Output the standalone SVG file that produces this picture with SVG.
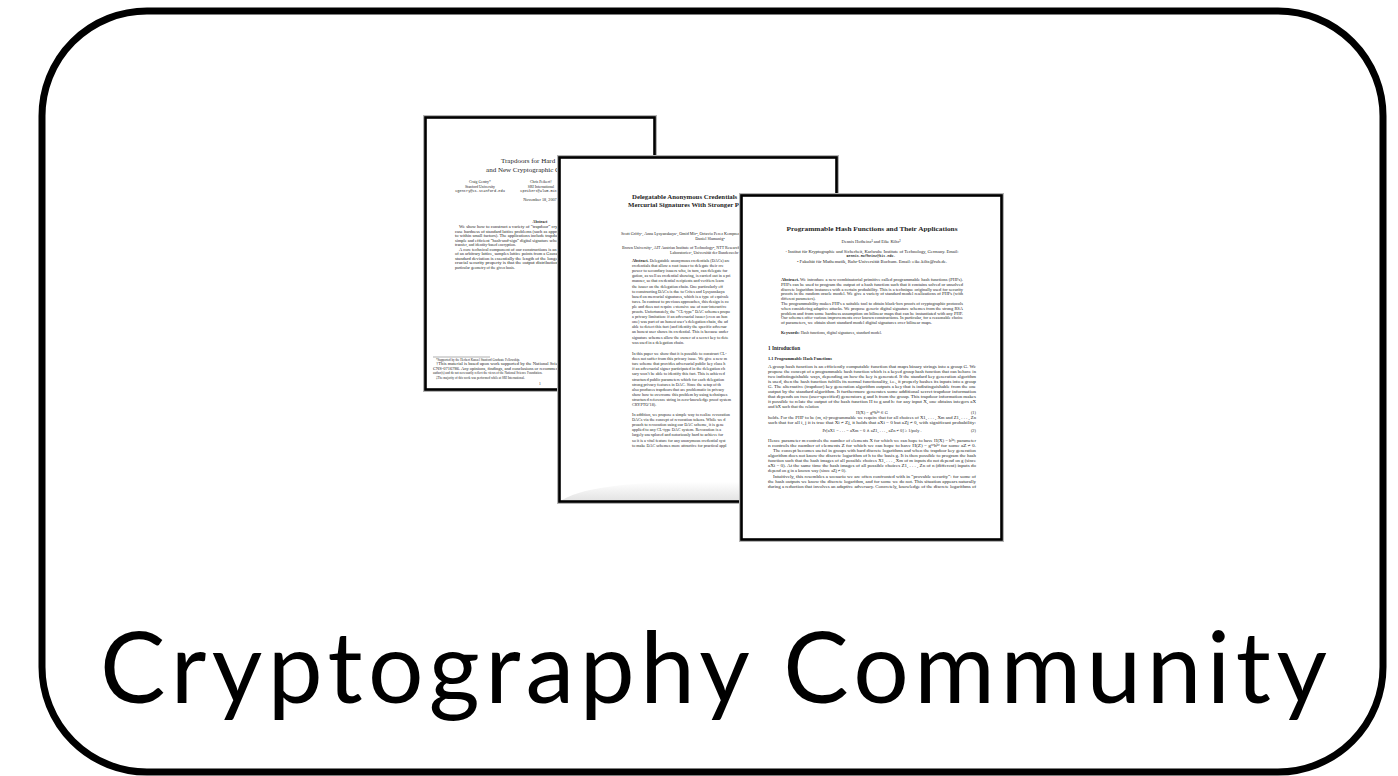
<svg xmlns="http://www.w3.org/2000/svg" width="1398" height="776" viewBox="0 0 1398 776">
<defs>
<style>
.frame{fill:#fff;stroke:#000;stroke-width:7}
.halo{fill:none;stroke:#b4b4b4;stroke-width:5}
.page{fill:#fff;stroke:#000;stroke-width:2.6}
.t{font-family:"Liberation Serif","DejaVu Serif",serif;fill:#1e1e1e}
.bd{font-weight:bold}
.m{font-family:"Liberation Mono","DejaVu Sans Mono",monospace}
.label{font-family:Lato,"Open Sans","Noto Sans",sans-serif;font-size:98px;fill:#000}
</style>
<linearGradient id="shade" x1="0" y1="0" x2="0" y2="1">
<stop offset="0" stop-color="#ffffff"/>
<stop offset="1" stop-color="#e4e4e4"/>
</linearGradient>
</defs>
<rect width="1398" height="776" fill="#fff"/>
<g id="frame">
<rect class="frame" x="42" y="11" width="1341" height="761" rx="105" ry="105"/>
</g>

<g id="paper1">
<rect class="halo" x="425.5" y="117.5" width="229" height="272"/>
<rect class="page" x="425.5" y="117.5" width="229" height="272"/>
<g class="t">
<text x="540" y="163" font-size="7" text-anchor="middle">Trapdoors for Hard Lattices</text>
<text x="540" y="172" font-size="7" text-anchor="middle">and New Cryptographic Constructions</text>
<text x="480" y="183" font-size="3.8" text-anchor="middle">Craig Gentry*</text>
<text x="541" y="183" font-size="3.8" text-anchor="middle">Chris Peikert†</text>
<text x="604" y="183" font-size="3.8" text-anchor="middle">Vinod Vaikuntanathan‡</text>
<text x="480" y="187.5" font-size="3.8" text-anchor="middle">Stanford University</text>
<text x="541" y="187.5" font-size="3.8" text-anchor="middle">SRI International</text>
<text x="604" y="187.5" font-size="3.8" text-anchor="middle">IBM</text>
<text class="m" x="480" y="192" font-size="3.6" text-anchor="middle">cgentry@cs.stanford.edu</text>
<text class="m" x="543" y="192" font-size="3.6" text-anchor="middle">cpeikert@alum.mit.edu</text>
<text x="540" y="201" font-size="4.2" text-anchor="middle">November 18, 2007</text>
<text class="bd" x="540" y="223" font-size="4" text-anchor="middle">Abstract</text>
<text x="459" y="228" font-size="3.9" textLength="166" lengthAdjust="spacingAndGlyphs">We show how to construct a variety of “trapdoor” cryptographic tools assuming the worst-</text>
<text x="455" y="232.5" font-size="3.9" textLength="170" lengthAdjust="spacingAndGlyphs">case hardness of standard lattice problems (such as approximating the shortest nonzero vector</text>
<text x="455" y="237" font-size="3.9" textLength="170" lengthAdjust="spacingAndGlyphs">to within small factors). The applications include trapdoor functions with preimage sampling,</text>
<text x="455" y="241.5" font-size="3.9" textLength="170" lengthAdjust="spacingAndGlyphs">simple and efficient “hash-and-sign” digital signature schemes, universally composable oblivious</text>
<text x="455" y="246" font-size="3.9">transfer, and identity-based encryption.</text>
<text x="459" y="250.5" font-size="3.9" textLength="166" lengthAdjust="spacingAndGlyphs">A core technical component of our constructions is an efficient algorithm that, given a basis</text>
<text x="455" y="255" font-size="3.9" textLength="170" lengthAdjust="spacingAndGlyphs">of an arbitrary lattice, samples lattice points from a Gaussian-like probability distribution whose</text>
<text x="455" y="259.5" font-size="3.9" textLength="170" lengthAdjust="spacingAndGlyphs">standard deviation is essentially the length of the longest vector in the basis. In particular, a</text>
<text x="455" y="264" font-size="3.9" textLength="170" lengthAdjust="spacingAndGlyphs">crucial security property is that the output distribution of the algorithm is oblivious to the</text>
<text x="455" y="268.5" font-size="3.9">particular geometry of the given basis.</text>
<line x1="433" y1="357" x2="490" y2="357" stroke="#333" stroke-width="0.4"/>
<text x="436" y="360.5" font-size="3.2">*Supported by the Herbert Kunzel Stanford Graduate Fellowship.</text>
<text x="436" y="365" font-size="3.2" textLength="211" lengthAdjust="spacingAndGlyphs">†This material is based upon work supported by the National Science Foundation under Grants CNS-0430450 and</text>
<text x="433" y="369.5" font-size="3.2" textLength="214" lengthAdjust="spacingAndGlyphs">CNS-0716786. Any opinions, findings, and conclusions or recommendations expressed in this material are those of the</text>
<text x="433" y="374" font-size="3.2">author(s) and do not necessarily reflect the views of the National Science Foundation.</text>
<text x="436" y="378.5" font-size="3.2">‡The majority of this work was performed while at SRI International.</text>
<text x="540" y="385" font-size="3.6" text-anchor="middle">1</text>
</g>
</g>

<g id="paper2">
<rect class="halo" x="559.5" y="157.5" width="277" height="344"/>
<rect class="page" x="559.5" y="157.5" width="277" height="344"/>
<path d="M562 500 C 590 484 650 481 740 482 L 740 500 Z" fill="url(#shade)"/>
<g class="t">
<text class="bd" x="632" y="199" font-size="6.8">Delegatable Anonymous Credentials From</text>
<text class="bd" x="628" y="207" font-size="6.8">Mercurial Signatures With Stronger Privacy</text>
<text x="621" y="235" font-size="4.2">Scott Griffy¹, Anna Lysyanskaya¹, Omid Mir², Octavio Perez Kempner³, and</text>
<text x="710" y="240" font-size="4.2" text-anchor="middle">Daniel Slamanig⁴</text>
<text x="622" y="249" font-size="4">Brown University¹, AIT Austrian Institute of Technology², NTT Research and</text>
<text x="670" y="254" font-size="4">Laboratories³, Universität der Bundeswehr München⁴</text>
<text x="632" y="262" font-size="4.2"><tspan class="bd">Abstract.</tspan> Delegatable anonymous credentials (DACs) are</text>
<text x="632" y="267.1" font-size="4.2">credentials that allow a root issuer to delegate their cre</text>
<text x="632" y="272.2" font-size="4.2">power to secondary issuers who, in turn, can delegate fur</text>
<text x="632" y="277.3" font-size="4.2">gation, as well as credential showing, is carried out in a pri</text>
<text x="632" y="282.4" font-size="4.2">manner, so that credential recipients and verifiers learn</text>
<text x="632" y="287.5" font-size="4.2">the issuer on the delegation chain. One particularly eff</text>
<text x="632" y="292.6" font-size="4.2">to constructing DACs is due to Crites and Lysyanskaya</text>
<text x="632" y="297.7" font-size="4.2">based on mercurial signatures, which is a type of equivale</text>
<text x="632" y="302.8" font-size="4.2">tures. In contrast to previous approaches, this design is co</text>
<text x="632" y="307.9" font-size="4.2">ple and does not require extensive use of non-interactive</text>
<text x="632" y="313" font-size="4.2">proofs. Unfortunately, the “CL-type” DAC schemes propo</text>
<text x="632" y="318.1" font-size="4.2">a privacy limitation: if an adversarial issuer (even an hon</text>
<text x="632" y="323.2" font-size="4.2">one) was part of an honest user’s delegation chain, the ad</text>
<text x="632" y="328.3" font-size="4.2">able to detect this fact (and identify the specific adversar</text>
<text x="632" y="333.4" font-size="4.2">an honest user shows its credential. This is because under</text>
<text x="632" y="338.5" font-size="4.2">signature schemes allow the owner of a secret key to dete</text>
<text x="632" y="343.6" font-size="4.2">was used in a delegation chain.</text>
<text x="632" y="355" font-size="4.2">In this paper we show that it is possible to construct CL-</text>
<text x="632" y="360.1" font-size="4.2">does not suffer from this privacy issue. We give a new m</text>
<text x="632" y="365.2" font-size="4.2">ture scheme that provides adversarial public key class h</text>
<text x="632" y="370.3" font-size="4.2">if an adversarial signer participated in the delegation ch</text>
<text x="632" y="375.4" font-size="4.2">sary won’t be able to identify this fact. This is achieved</text>
<text x="632" y="380.5" font-size="4.2">structured public parameters which for each delegation</text>
<text x="632" y="385.6" font-size="4.2">strong privacy features in DAC. Since the setup of th</text>
<text x="632" y="390.7" font-size="4.2">also produces trapdoors that are problematic in privacy</text>
<text x="632" y="395.8" font-size="4.2">show how to overcome this problem by using techniques</text>
<text x="632" y="400.9" font-size="4.2">structured reference string in zero-knowledge proof system</text>
<text x="632" y="406" font-size="4.2">CRYPTO’18).</text>
<text x="632" y="416" font-size="4.2">In addition, we propose a simple way to realize revocation</text>
<text x="632" y="421.1" font-size="4.2">DACs via the concept of revocation tokens. While we d</text>
<text x="632" y="426.2" font-size="4.2">proach to revocation using our DAC scheme, it is gene</text>
<text x="632" y="431.3" font-size="4.2">applied to any CL-type DAC system. Revocation is a</text>
<text x="632" y="436.4" font-size="4.2">largely unexplored and notoriously hard to achieve for</text>
<text x="632" y="441.5" font-size="4.2">so it is a vital feature for any anonymous credential syst</text>
<text x="632" y="446.6" font-size="4.2">to make DAC schemes more attractive for practical appl</text>
</g>
</g>

<g id="paper3">
<rect class="halo" x="741.5" y="195.5" width="260" height="344"/>
<rect class="page" x="741.5" y="195.5" width="260" height="344"/>
<g class="t">
<text class="bd" x="872" y="231" font-size="7" text-anchor="middle" textLength="171" lengthAdjust="spacingAndGlyphs">Programmable Hash Functions and Their Applications</text>
<text x="871" y="243" font-size="4.4" text-anchor="middle">Dennis Hofheinz¹ and Eike Kiltz²</text>
<text x="872" y="252.5" font-size="3.6" text-anchor="middle" textLength="173" lengthAdjust="spacingAndGlyphs">¹ Institut für Kryptographie und Sicherheit, Karlsruhe Institute of Technology, Germany. Email:</text>
<text class="m bd" x="871" y="257" font-size="3.4" text-anchor="middle">Dennis.Hofheinz@kit.edu.</text>
<text x="872" y="263" font-size="3.6" text-anchor="middle" textLength="150" lengthAdjust="spacingAndGlyphs">² Fakultät für Mathematik, Ruhr-Universität Bochum. Email: eike.kiltz@rub.de.</text>
<text x="781" y="281" font-size="4" textLength="182" lengthAdjust="spacingAndGlyphs"><tspan class="bd">Abstract.</tspan> We introduce a new combinatorial primitive called programmable hash functions (PHFs).</text>
<text x="781" y="285.8" font-size="4" textLength="182" lengthAdjust="spacingAndGlyphs">PHFs can be used to program the output of a hash function such that it contains solved or unsolved</text>
<text x="781" y="290.6" font-size="4" textLength="182" lengthAdjust="spacingAndGlyphs">discrete logarithm instances with a certain probability. This is a technique originally used for security</text>
<text x="781" y="295.4" font-size="4" textLength="182" lengthAdjust="spacingAndGlyphs">proofs in the random oracle model. We give a variety of standard model realizations of PHFs (with</text>
<text x="781" y="300.2" font-size="4">different parameters).</text>
<text x="781" y="305" font-size="4" textLength="182" lengthAdjust="spacingAndGlyphs">The programmability makes PHFs a suitable tool to obtain black-box proofs of cryptographic protocols</text>
<text x="781" y="309.8" font-size="4" textLength="182" lengthAdjust="spacingAndGlyphs">when considering adaptive attacks. We propose generic digital signature schemes from the strong RSA</text>
<text x="781" y="314.6" font-size="4" textLength="182" lengthAdjust="spacingAndGlyphs">problem and from some hardness assumption on bilinear maps that can be instantiated with any PHF.</text>
<text x="781" y="319.4" font-size="4" textLength="182" lengthAdjust="spacingAndGlyphs">Our schemes offer various improvements over known constructions. In particular, for a reasonable choice</text>
<text x="781" y="324.2" font-size="4" textLength="151" lengthAdjust="spacingAndGlyphs">of parameters, we obtain short standard model digital signatures over bilinear maps.</text>
<text x="781" y="334" font-size="4"><tspan class="bd">Keywords:</tspan> Hash functions, digital signatures, standard model.</text>
<text class="bd" x="768" y="349.5" font-size="5.2">1   Introduction</text>
<text class="bd" x="768" y="359.5" font-size="4.3">1.1   Programmable Hash Functions</text>
<text x="768" y="368" font-size="4.4" textLength="208" lengthAdjust="spacingAndGlyphs">A group hash function is an efficiently computable function that maps binary strings into a group G. We</text>
<text x="768" y="373" font-size="4.4" textLength="208" lengthAdjust="spacingAndGlyphs">propose the concept of a programmable hash function which is a keyed group hash function that can behave in</text>
<text x="768" y="378" font-size="4.4" textLength="208" lengthAdjust="spacingAndGlyphs">two indistinguishable ways, depending on how the key is generated. If the standard key generation algorithm</text>
<text x="768" y="383" font-size="4.4" textLength="208" lengthAdjust="spacingAndGlyphs">is used, then the hash function fulfills its normal functionality, i.e., it properly hashes its inputs into a group</text>
<text x="768" y="388" font-size="4.4" textLength="208" lengthAdjust="spacingAndGlyphs">G. The alternative (trapdoor) key generation algorithm outputs a key that is indistinguishable from the one</text>
<text x="768" y="393" font-size="4.4" textLength="208" lengthAdjust="spacingAndGlyphs">output by the standard algorithm. It furthermore generates some additional secret trapdoor information</text>
<text x="768" y="398" font-size="4.4" textLength="208" lengthAdjust="spacingAndGlyphs">that depends on two (user-specified) generators g and h from the group. This trapdoor information makes</text>
<text x="768" y="403" font-size="4.4" textLength="208" lengthAdjust="spacingAndGlyphs">it possible to relate the output of the hash function H to g and h: for any input X, one obtains integers aX</text>
<text x="768" y="408" font-size="4.4">and bX such that the relation</text>
<text x="872" y="413.5" font-size="4.4" text-anchor="middle">H(X) = gᵃˣhᵇˣ ∈ G</text>
<text x="976" y="413.5" font-size="4.4" text-anchor="end">(1)</text>
<text x="768" y="419" font-size="4.4" textLength="208" lengthAdjust="spacingAndGlyphs">holds. For the PHF to be (m, n)-programmable we require that for all choices of X1, . . . , Xm and Z1, . . . , Zn</text>
<text x="768" y="424" font-size="4.4" textLength="208" lengthAdjust="spacingAndGlyphs">such that for all i, j it is true that Xi ≠ Zj, it holds that aXi = 0 but aZj ≠ 0, with significant probability:</text>
<text x="872" y="432" font-size="4.4" text-anchor="middle">Pr[aX1 = . . . = aXm = 0 ∧ aZ1, . . . , aZn ≠ 0] ≥ 1/poly .</text>
<text x="976" y="432" font-size="4.4" text-anchor="end">(2)</text>
<text x="768" y="442" font-size="4.4" textLength="208" lengthAdjust="spacingAndGlyphs">Hence parameter m controls the number of elements X for which we can hope to have H(X) = hᵇˣ; parameter</text>
<text x="768" y="447" font-size="4.4" textLength="208" lengthAdjust="spacingAndGlyphs">n controls the number of elements Z for which we can hope to have H(Z) = gᵃᶻhᵇᶻ for some aZ ≠ 0.</text>
<text x="773" y="452" font-size="4.4" textLength="203" lengthAdjust="spacingAndGlyphs">The concept becomes useful in groups with hard discrete logarithms and when the trapdoor key generation</text>
<text x="768" y="457" font-size="4.4" textLength="208" lengthAdjust="spacingAndGlyphs">algorithm does not know the discrete logarithm of h to the basis g. It is then possible to program the hash</text>
<text x="768" y="462" font-size="4.4" textLength="208" lengthAdjust="spacingAndGlyphs">function such that the hash images of all possible choices X1, . . . , Xm of m inputs do not depend on g (since</text>
<text x="768" y="467" font-size="4.4" textLength="208" lengthAdjust="spacingAndGlyphs">aXi = 0). At the same time the hash images of all possible choices Z1, . . . , Zn of n (different) inputs do</text>
<text x="768" y="472" font-size="4.4">depend on g in a known way (since aZj ≠ 0).</text>
<text x="773" y="477.5" font-size="4.4" textLength="203" lengthAdjust="spacingAndGlyphs">Intuitively, this resembles a scenario we are often confronted with in “provable security”: for some of</text>
<text x="768" y="482.5" font-size="4.4" textLength="208" lengthAdjust="spacingAndGlyphs">the hash outputs we know the discrete logarithm, and for some we do not. This situation appears naturally</text>
<text x="768" y="487.5" font-size="4.4" textLength="208" lengthAdjust="spacingAndGlyphs">during a reduction that involves an adaptive adversary. Concretely, knowledge of the discrete logarithms of</text>
</g>
</g>

<g id="label">
<text class="label" x="100" y="703" textLength="1227" lengthAdjust="spacing">Cryptography Community</text>
</g>
</svg>
